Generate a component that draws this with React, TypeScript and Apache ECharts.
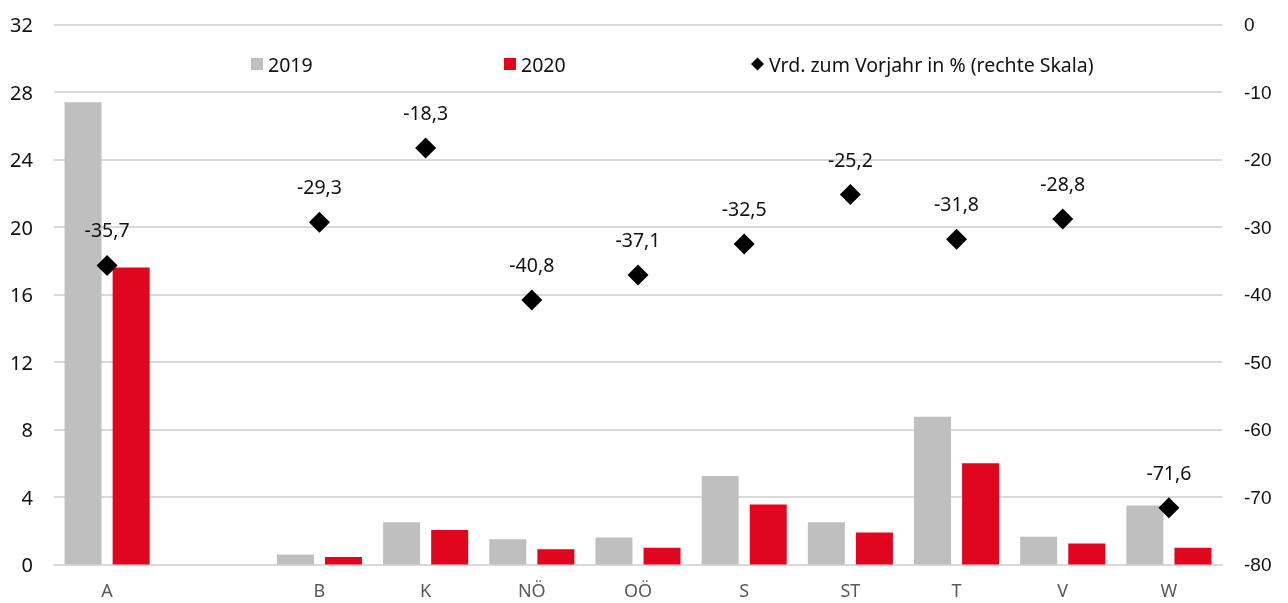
import React, { useEffect, useRef } from "react";
import * as echarts from "echarts";

const categories = ["A", "", "B", "K", "NÖ", "OÖ", "S", "ST", "T", "V", "W"];
const values2019 = [27.4, null, 0.6, 2.5, 1.5, 1.6, 5.25, 2.5, 8.75, 1.65, 3.5];
const values2020 = [17.6, null, 0.45, 2.05, 0.9, 1.0, 3.55, 1.9, 6.0, 1.25, 1.0];
const changePct = [-35.7, null, -29.3, -18.3, -40.8, -37.1, -32.5, -25.2, -31.8, -28.8, -71.6];
const leftTicks = { min: 0, max: 32, interval: 4 };
const rightTicks = { min: -80, max: 0, interval: 10 };

const FONT = "'Noto Sans', 'DejaVu Sans', sans-serif";

export default function App() {
  const ref = useRef<HTMLDivElement>(null);
  useEffect(() => {
    if (!ref.current) return;
    const chart = echarts.init(ref.current, null, { renderer: "svg" });
    const legendText = { fontFamily: FONT, fontSize: 19.5, color: "#111111" };
    chart.setOption({
      animation: false,
      textStyle: { fontFamily: FONT },
      grid: { left: 54, right: 66, top: 24.5, bottom: 38.5, containLabel: false },
      legend: [
        { data: ["2019"], left: 246, top: 49, itemWidth: 12, itemHeight: 12, itemGap: 5, textStyle: legendText, icon: "rect" },
        { data: ["2020"], left: 499, top: 49, itemWidth: 12, itemHeight: 12, textStyle: legendText, icon: "rect" },
        { data: ["Vrd. zum Vorjahr in % (rechte Skala)"], left: 746, top: 49, itemWidth: 13, itemHeight: 13, textStyle: legendText, icon: "diamond" },
      ],
      xAxis: {
        type: "category",
        data: categories,
        axisTick: { show: false },
        axisLine: { show: true, lineStyle: { color: "#d9d9d9", width: 2 } },
        axisLabel: { color: "#595959", fontSize: 18, margin: 16, fontFamily: FONT },
      },
      yAxis: [
        {
          type: "value",
          min: leftTicks.min,
          max: leftTicks.max,
          interval: leftTicks.interval,
          axisLine: { show: false },
          axisTick: { show: false },
          splitLine: { lineStyle: { color: "#d9d9d9", width: 2 } },
          axisLabel: { color: "#111111", fontSize: 20, margin: 21, fontFamily: FONT },
        },
        {
          type: "value",
          min: rightTicks.min,
          max: rightTicks.max,
          interval: rightTicks.interval,
          position: "right",
          axisLine: { show: false },
          axisTick: { show: false },
          splitLine: { show: false },
          axisLabel: { color: "#111111", fontSize: 19, margin: 22, fontFamily: "'Liberation Sans', Arial, sans-serif" },
        },
      ],
      series: [
        {
          name: "2019",
          type: "bar",
          data: values2019,
          barWidth: 37,
          barGap: "30%",
          itemStyle: { color: "#bfbfbf" },
        },
        {
          name: "2020",
          type: "bar",
          data: values2020,
          barWidth: 37,
          itemStyle: { color: "#e2051e" },
        },
        {
          name: "Vrd. zum Vorjahr in % (rechte Skala)",
          type: "line",
          yAxisIndex: 1,
          data: changePct,
          symbol: "diamond",
          symbolSize: 21,
          lineStyle: { width: 0, opacity: 0 },
          itemStyle: { color: "#000000" },
          connectNulls: false,
          label: {
            show: true,
            position: "top",
            distance: 15,
            color: "#111111",
            fontSize: 19.5,
            fontFamily: FONT,
            formatter: (p: any) => (p.value == null ? "" : String(p.value.toFixed(1)).replace(".", ",")),
          },
        },
      ],
    });
    return () => chart.dispose();
  }, []);
  return (
    <div
      ref={ref}
      style={{ position: "fixed", left: 0, top: 0, width: 1288, height: 603 }}
    />
  );
}
